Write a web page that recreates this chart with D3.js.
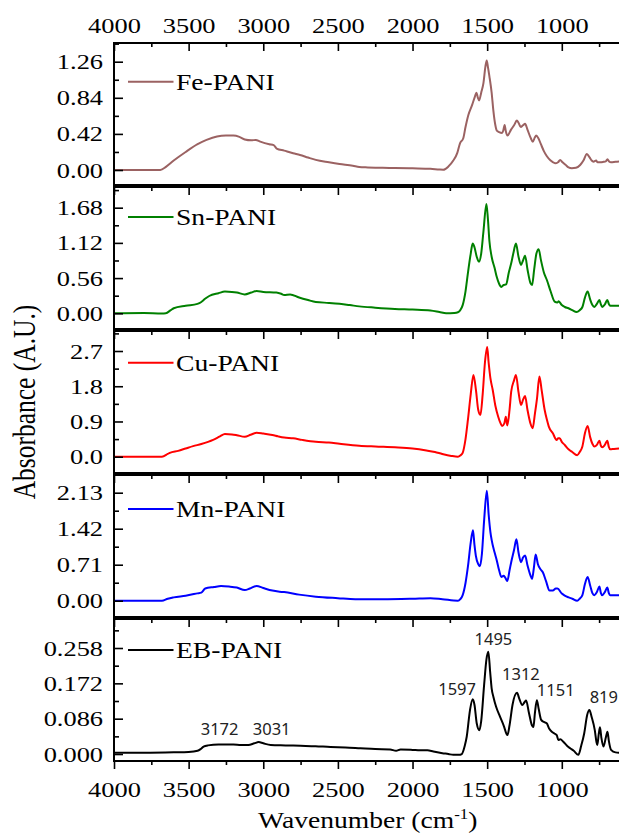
<!DOCTYPE html>
<html><head><meta charset="utf-8">
<script src="https://cdn.jsdelivr.net/npm/d3@7"></script>
<style>
html,body{margin:0;padding:0;background:#fff;}
svg{display:block;}
</style></head>
<body>
<script>
// ---------- DATA ----------
const seriesNames = ["Fe-PANI","Sn-PANI","Cu-PANI","Mn-PANI","EB-PANI"];
const seriesColors = ["#9b6262","#008000","#ff0000","#0000ff","#000000"];

const fePANI = [[4000,0],[3800,0.0],[3690,0.0],[3650,0.04],[3600,0.11],[3520,0.21],[3440,0.30],[3380,0.35],[3310,0.39],[3250,0.40],[3200,0.40],[3160,0.385],[3124,0.355],[3080,0.345],[3050,0.35],[3020,0.33],[2960,0.30],[2930,0.29],[2910,0.25],[2860,0.225],[2800,0.195],[2754,0.175],[2700,0.145],[2648,0.118],[2560,0.09],[2489,0.07],[2400,0.05],[2357,0.035],[2300,0.03],[2200,0.025],[2118,0.024],[2000,0.02],[1880,0.015],[1820,0.005],[1794,0.003],[1760,0.04],[1727,0.11],[1700,0.2],[1682,0.31],[1660,0.37],[1645,0.5],[1626,0.64],[1600,0.76],[1581,0.86],[1572,0.9],[1562,0.84],[1554,0.81],[1540,0.9],[1525,1.01],[1512,1.2],[1503,1.275],[1495,1.2],[1485,1.09],[1470,0.9],[1459,0.70],[1445,0.52],[1436,0.46],[1420,0.44],[1400,0.43],[1392,0.46],[1383,0.525],[1375,0.45],[1364,0.40],[1340,0.47],[1320,0.52],[1301,0.575],[1290,0.55],[1275,0.50],[1260,0.52],[1246,0.537],[1230,0.47],[1210,0.38],[1194,0.33],[1180,0.38],[1172,0.40],[1157,0.37],[1140,0.30],[1120,0.22],[1101,0.163],[1075,0.11],[1045,0.078],[1025,0.09],[1011,0.117],[995,0.09],[975,0.06],[955,0.03],[933,0.02],[905,0.025],[877,0.058],[855,0.11],[832,0.187],[815,0.15],[800,0.11],[788,0.097],[770,0.11],[760,0.09],[743,0.09],[720,0.095],[705,0.1],[694,0.125],[683,0.1],[670,0.09],[640,0.095],[600,0.1]];

const snPANI = [[4000,0],[3800,0.005],[3680,-0.005],[3653,0.0],[3620,0.05],[3600,0.08],[3520,0.12],[3441,0.15],[3415,0.18],[3390,0.23],[3362,0.275],[3300,0.32],[3257,0.345],[3210,0.34],[3177,0.33],[3124,0.30],[3080,0.33],[3045,0.355],[3000,0.34],[2912,0.33],[2880,0.31],[2860,0.29],[2820,0.30],[2760,0.25],[2700,0.21],[2648,0.18],[2560,0.165],[2489,0.15],[2420,0.13],[2357,0.11],[2250,0.09],[2118,0.07],[2000,0.06],[1880,0.045],[1820,0.02],[1775,0.0],[1720,0.005],[1696,0.016],[1680,0.05],[1664,0.13],[1645,0.35],[1629,0.64],[1610,0.95],[1597,1.11],[1585,1.05],[1570,0.90],[1555,0.82],[1540,0.95],[1525,1.3],[1505,1.74],[1495,1.5],[1485,1.15],[1470,0.90],[1450,0.72],[1436,0.58],[1420,0.47],[1405,0.42],[1390,0.45],[1373,0.46],[1355,0.65],[1339,0.795],[1325,0.95],[1307,1.11],[1290,0.90],[1273,0.77],[1260,0.84],[1246,0.915],[1230,0.7],[1210,0.48],[1199,0.45],[1185,0.7],[1170,0.95],[1155,1.02],[1140,0.85],[1120,0.65],[1100,0.53],[1075,0.35],[1048,0.185],[1030,0.17],[1021,0.19],[1000,0.13],[980,0.1],[955,0.08],[930,0.05],[901,0.02],[880,0.05],[862,0.1],[845,0.25],[827,0.345],[810,0.22],[795,0.13],[782,0.1],[765,0.15],[748,0.21],[738,0.14],[729,0.1],[712,0.14],[695,0.21],[685,0.15],[676,0.12],[640,0.12],[600,0.12]];

const cuPANI = [[4000,0],[3800,0.0],[3679,0.0],[3640,0.07],[3626,0.10],[3570,0.15],[3520,0.21],[3470,0.27],[3415,0.325],[3370,0.38],[3336,0.43],[3290,0.52],[3257,0.58],[3210,0.57],[3177,0.55],[3124,0.51],[3085,0.56],[3045,0.61],[3000,0.59],[2939,0.555],[2900,0.52],[2860,0.49],[2800,0.47],[2740,0.43],[2648,0.38],[2560,0.36],[2489,0.33],[2357,0.28],[2250,0.26],[2118,0.24],[2000,0.21],[1907,0.16],[1850,0.12],[1801,0.07],[1740,0.02],[1696,0.0],[1680,0.03],[1664,0.10],[1645,0.45],[1629,0.94],[1610,1.6],[1592,2.09],[1575,1.7],[1560,1.2],[1545,1.07],[1530,1.6],[1515,2.4],[1500,2.8],[1490,2.4],[1478,2.0],[1463,1.71],[1445,1.3],[1426,1.02],[1410,0.85],[1400,0.785],[1385,0.85],[1375,1.02],[1365,0.80],[1350,1.2],[1339,1.66],[1320,1.95],[1307,2.09],[1290,1.65],[1273,1.32],[1260,1.45],[1246,1.55],[1230,1.2],[1210,0.85],[1195,0.73],[1180,1.1],[1166,1.49],[1150,2.05],[1135,1.7],[1115,1.2],[1100,0.95],[1087,0.77],[1060,0.6],[1035,0.43],[1024,0.47],[1014,0.47],[1000,0.38],[980,0.3],[955,0.19],[930,0.12],[897,0.04],[880,0.12],[862,0.26],[845,0.6],[827,0.785],[810,0.5],[795,0.33],[782,0.26],[765,0.3],[748,0.41],[738,0.28],[729,0.24],[712,0.3],[695,0.41],[685,0.25],[676,0.19],[650,0.2],[600,0.21]];

const mnPANI = [[4000,0],[3700,0],[3679,0.0],[3640,0.04],[3600,0.066],[3520,0.1],[3441,0.145],[3415,0.16],[3389,0.24],[3330,0.27],[3283,0.29],[3230,0.28],[3177,0.26],[3124,0.21],[3090,0.24],[3045,0.29],[3000,0.25],[2939,0.20],[2900,0.18],[2860,0.17],[2760,0.12],[2648,0.08],[2500,0.05],[2383,0.03],[2200,0.03],[2000,0.04],[1880,0.05],[1800,0.03],[1696,0.0],[1680,0.03],[1664,0.11],[1645,0.35],[1629,0.67],[1610,1.15],[1595,1.39],[1585,1.1],[1576,0.89],[1560,0.72],[1549,0.68],[1535,0.93],[1520,1.6],[1502,2.17],[1490,1.7],[1478,1.35],[1470,1.2],[1450,0.95],[1436,0.80],[1420,0.6],[1405,0.47],[1390,0.49],[1380,0.46],[1365,0.39],[1350,0.6],[1339,0.76],[1320,1.0],[1304,1.21],[1290,0.95],[1273,0.76],[1260,0.85],[1246,0.89],[1230,0.7],[1210,0.5],[1199,0.43],[1187,0.65],[1175,0.91],[1160,0.72],[1145,0.63],[1127,0.56],[1105,0.38],[1082,0.20],[1060,0.2],[1040,0.24],[1029,0.24],[1000,0.14],[980,0.1],[955,0.066],[930,0.04],[897,0.0],[880,0.04],[862,0.11],[845,0.33],[827,0.47],[810,0.3],[795,0.15],[782,0.11],[765,0.17],[748,0.28],[738,0.15],[729,0.11],[712,0.17],[695,0.26],[685,0.15],[676,0.11],[640,0.11],[600,0.11]];

const ebPANI = [[4000,0.003],[3800,0.003],[3600,0.004],[3500,0.005],[3440,0.008],[3420,0.012],[3400,0.018],[3370,0.021],[3300,0.023],[3200,0.023],[3150,0.022],[3100,0.022],[3060,0.026],[3031,0.029],[3000,0.026],[2950,0.022],[2850,0.021],[2750,0.02],[2650,0.019],[2550,0.017],[2450,0.016],[2350,0.014],[2250,0.012],[2150,0.011],[2110,0.008],[2080,0.011],[2000,0.01],[1950,0.009],[1900,0.009],[1860,0.006],[1800,0.002],[1760,0.0],[1727,-0.002],[1690,-0.002],[1670,0.0],[1650,0.02],[1637,0.042],[1615,0.107],[1597,0.133],[1585,0.12],[1570,0.075],[1552,0.058],[1540,0.08],[1520,0.17],[1505,0.23],[1492,0.249],[1480,0.2],[1470,0.16],[1458,0.139],[1440,0.115],[1414,0.091],[1390,0.07],[1364,0.046],[1350,0.07],[1330,0.12],[1300,0.149],[1285,0.135],[1265,0.119],[1250,0.126],[1239,0.13],[1220,0.1],[1200,0.07],[1190,0.066],[1180,0.1],[1167,0.131],[1155,0.11],[1138,0.083],[1120,0.078],[1101,0.075],[1085,0.062],[1067,0.054],[1050,0.05],[1034,0.046],[1023,0.034],[1010,0.036],[990,0.03],[965,0.02],[944,0.014],[920,0.008],[889,-0.002],[870,0.02],[850,0.05],[830,0.095],[815,0.107],[800,0.09],[779,0.058],[768,0.03],[762,0.022],[752,0.05],[744,0.065],[735,0.04],[721,0.018],[705,0.04],[694,0.054],[684,0.03],[670,0.01],[640,0.004],[600,0.003]];

const seriesData = [fePANI, snPANI, cuPANI, mnPANI, ebPANI];

const xDomain = [4000, 600];
const xMajorTicks = [4000,3500,3000,2500,2000,1500,1000];
const xMinorTicks = [3750,3250,2750,2250,1750,1250,750];

const yDomains = [[-0.1745,1.4776],[-0.25,2.009],[-0.416,3.211],[-0.321,2.479],[-0.017,0.3286]];
const yMajorTicks = [[0,0.42,0.84,1.26],[0,0.56,1.12,1.68],[0,0.9,1.8,2.7],[0,0.71,1.42,2.13],[0,0.086,0.172,0.258]];
const yMinorTicks = [[0.21,0.63,1.05,1.47],[0.28,0.84,1.4,1.96],[0.45,1.35,2.25,3.15],[0.355,1.065,1.775,2.485],[0.043,0.129,0.215,0.301]];
const yFormats = [".2f",".2f",".1f",".2f",".3f"];

const peakLabels = ["3172","3031","1597","1495","1312","1151","819"];
const peakWaves = [3172,3031,1597,1495,1312,1151,819];

const xTitle = "Wavenumber (cm";
const yTitle = "Absorbance (A.U.)";

// ---------- LAYOUT ----------
const W = 619, H = 839;
const left = 114, right = 621.5;
const panelTops = [43,187,331,475,619];
const panelH = 142;
const legendDy = [38.7,30,31.7,34,31];
const peakDx = [-18,13,-15.6,5.5,5.7,16.5,15];
const peakDy = [-10,-7,-4,-6.5,-12.5,-4,-7];
const serif = "'Liberation Serif','Times New Roman',serif";
const SX = 1.2;          // horizontal stretch of the serif text
const tickFont = 22, legendFont = 23, titleFont = 23;

const svg = d3.select("body").append("svg").attr("width",W).attr("height",H)
  .style("font-family",serif);

const x = d3.scaleLinear().domain(xDomain).range([left,right]);

seriesData.forEach((data,i)=>{
  const top = panelTops[i], bot = top + panelH;
  const y = d3.scaleLinear().domain(yDomains[i]).range([bot, top]);
  const g = svg.append("g");

  const cid = "clip"+i;
  svg.append("clipPath").attr("id",cid).append("rect")
    .attr("x",left).attr("y",top).attr("width",right-left).attr("height",panelH);

  const line = d3.line().x(d=>x(d[0])).y(d=>y(d[1])).curve(d3.curveMonotoneX);
  g.append("path").datum(data).attr("d",line).attr("fill","none")
    .attr("stroke",seriesColors[i]).attr("stroke-width",2).attr("stroke-linejoin","round")
    .attr("clip-path",`url(#${cid})`);

  const topAx = d3.axisTop(x).tickValues(xMajorTicks).tickSize(-8).tickPadding(10)
    .tickFormat(i===0 ? d3.format("d") : "");
  g.append("g").attr("class","hx").attr("transform",`translate(0,${top})`).call(topAx);
  g.append("g").attr("transform",`translate(0,${top})`)
    .call(d3.axisTop(x).tickValues(xMinorTicks).tickSize(-4).tickFormat(""));

  const ly = d3.axisLeft(y).tickValues(yMajorTicks[i]).tickSize(-9).tickPadding(11)
    .tickFormat(d3.format(yFormats[i]));
  g.append("g").attr("class","vy").attr("transform",`translate(${left},0)`).call(ly);
  g.append("g").attr("transform",`translate(${left},0)`)
    .call(d3.axisLeft(y).tickValues(yMinorTicks[i].filter(v=>v<yDomains[i][1])).tickSize(-5).tickFormat(""));

  if(i===seriesData.length-1){
    g.append("g").attr("class","hx").attr("transform",`translate(0,${bot})`)
      .call(d3.axisBottom(x).tickValues(xMajorTicks).tickSize(8).tickPadding(12.4).tickFormat(d3.format("d")));
    g.append("g").attr("transform",`translate(0,${bot})`)
      .call(d3.axisBottom(x).tickValues(xMinorTicks).tickSize(4).tickFormat(""));
  }

  g.append("path").attr("d",`M${right},${top}H${left}V${bot}H${right}`)
    .attr("fill","none").attr("stroke","#000").attr("stroke-width",2);

  const ly0 = top + legendDy[i];
  g.append("line").attr("x1",128).attr("x2",173.5).attr("y1",ly0).attr("y2",ly0)
    .attr("stroke",seriesColors[i]).attr("stroke-width",2);
  g.append("text").attr("transform",`translate(176,${ly0}) scale(${SX},1)`).attr("dy","0.34em")
    .attr("font-size",legendFont).text(seriesNames[i]);

  if(i===seriesData.length-1){
    peakLabels.forEach((lab,k)=>{
      const w = peakWaves[k];
      const pt = data.reduce((a,b)=>Math.abs(b[0]-w)<Math.abs(a[0]-w)?b:a);
      const near = data.filter(d=>Math.abs(d[0]-w)<25).reduce((m,d)=>Math.max(m,d[1]),pt[1]);
      g.append("text").attr("x",x(w)+peakDx[k]).attr("y",y(near)+peakDy[k])
        .attr("text-anchor","middle").attr("font-family","'Noto Sans','DejaVu Sans',sans-serif")
        .attr("font-size",16.5).attr("fill","#222").text(lab);
    });
  }
});

svg.selectAll(".tick line").attr("stroke","#000").attr("stroke-width",1.6);
svg.selectAll(".domain").remove();
svg.selectAll(".tick text").attr("font-family",serif).attr("font-size",tickFont).attr("fill","#000");
svg.selectAll(".hx .tick text").attr("transform",`scale(${SX},1)`);
svg.selectAll(".vy .tick text").attr("x",-11/SX).attr("transform",`scale(${SX},1)`);

const xt = svg.append("text").attr("transform",`translate(${(left+right)/2},828) scale(${SX},1)`)
  .attr("text-anchor","middle").attr("font-size",titleFont);
xt.append("tspan").text(xTitle);
xt.append("tspan").attr("dy",-9).attr("font-size",14).text("-1");
xt.append("tspan").attr("dy",9).text(")");

svg.append("text").attr("transform",`translate(35,402) scale(${SX},1) rotate(-90)`)
  .attr("text-anchor","middle").attr("font-size",25.5).text(yTitle);
</script>
</body></html>
